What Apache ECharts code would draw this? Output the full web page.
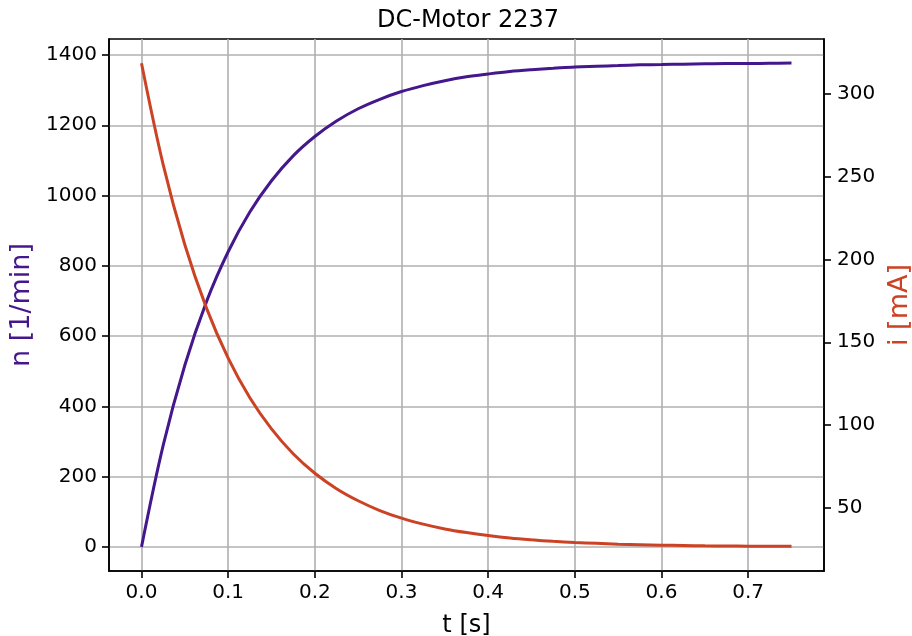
<!DOCTYPE html>
<html>
<head>
<meta charset="utf-8">
<script src="https://cdn.jsdelivr.net/npm/echarts@6/dist/echarts.min.js"></script>
<style>
  html, body { margin: 0; padding: 0; background: #ffffff; }
  #chart { width: 912px; height: 636px; }
</style>
</head>
<body>
<div id="chart"></div>
<script>
// Run-up of a DC motor: speed n and armature current i over time t
const time = [0, 0.025, 0.05, 0.075, 0.1, 0.125, 0.15, 0.175, 0.2, 0.225, 0.25, 0.275, 0.3, 0.325, 0.35, 0.375,
  0.4, 0.425, 0.45, 0.475, 0.5, 0.525, 0.55, 0.575, 0.6, 0.625, 0.65, 0.675, 0.7, 0.725, 0.75];
const speed = [0, 289, 517, 698, 840, 953, 1042, 1113, 1168, 1212, 1247, 1274, 1296, 1313, 1327, 1338,
  1346, 1353, 1358, 1362, 1366, 1368, 1370, 1372, 1373, 1374, 1375, 1376, 1376, 1376.5, 1377];
const current = [318.5, 257.3, 208.9, 170.6, 140.4, 116.5, 97.7, 82.7, 70.9, 61.6, 54.3, 48.4, 43.8, 40.2, 37.3, 35.1,
  33.3, 31.8, 30.7, 29.8, 29.1, 28.6, 28.1, 27.8, 27.5, 27.3, 27.1, 27.0, 26.9, 26.8, 26.8];

const timeTicks = [0, 0.1, 0.2, 0.3, 0.4, 0.5, 0.6, 0.7];
const speedTicks = [0, 200, 400, 600, 800, 1000, 1200, 1400];
const currentTicks = [50, 100, 150, 200, 250, 300];

const speedColor = '#44178c';
const currentColor = '#cc4224';
const font = 'DejaVu Sans';

const speedData = time.map((t, k) => [t, speed[k]]);
const currentData = time.map((t, k) => [t, current[k]]);

const chart = echarts.init(document.getElementById('chart'), null, { renderer: 'canvas' });

const tickStyle = { show: true, inside: false, length: 7, lineStyle: { color: '#000', width: 1.6 } };

chart.setOption({
  animation: false,
  backgroundColor: '#ffffff',
  // title centred over the plotting area (x 109..824)
  title: {
    text: 'DC-Motor 2237',
    left: 372,
    top: 4,
    textStyle: { fontFamily: font, fontSize: 24, fontWeight: 'normal', color: '#000' }
  },
  grid: {
    left: 109, right: 88, top: 39, bottom: 65,
    containLabel: false,
    outerBoundsMode: 'none',
    show: true, borderColor: '#000', borderWidth: 1.6, backgroundColor: 'transparent'
  },
  xAxis: {
    type: 'value',
    min: -0.0375,
    max: 0.7875,
    name: 't [s]',
    nameLocation: 'middle',
    nameGap: 43,
    nameTextStyle: { fontFamily: font, fontSize: 24, color: '#000' },
    axisLine: { show: true, onZero: false, lineStyle: { color: '#000', width: 1.6 } },
    axisTick: Object.assign({ customValues: timeTicks }, tickStyle),
    axisLabel: {
      customValues: timeTicks,
      margin: 12,
      fontFamily: font, fontSize: 20, color: '#000',
      formatter: v => v.toFixed(1)
    },
    splitLine: { show: true, lineStyle: { color: '#b0b0b0', width: 1.6 } }
  },
  yAxis: [
    {
      type: 'value',
      position: 'left',
      min: -68.8,
      max: 1445.6,
      name: 'n [1/min]',
      nameLocation: 'middle',
      nameGap: 69,
      nameRotate: 90,
      nameTextStyle: { fontFamily: font, fontSize: 27, color: speedColor },
      axisLine: { show: true, onZero: false, lineStyle: { color: '#000', width: 1.6 } },
      axisTick: Object.assign({ customValues: speedTicks }, tickStyle),
      axisLabel: {
        customValues: speedTicks, margin: 12, fontFamily: font, fontSize: 20, color: '#000',
        formatter: v => String(v)
      },
      splitLine: { show: true, lineStyle: { color: '#b0b0b0', width: 1.6 } }
    },
    {
      type: 'value',
      position: 'right',
      min: 11.9,
      max: 333.1,
      name: 'i [mA]',
      nameLocation: 'middle',
      nameGap: 59,
      nameRotate: 90,
      nameTextStyle: { fontFamily: font, fontSize: 27, color: currentColor },
      axisLine: { show: true, onZero: false, lineStyle: { color: '#000', width: 1.6 } },
      axisTick: Object.assign({ customValues: currentTicks }, tickStyle),
      axisLabel: {
        customValues: currentTicks, margin: 13, fontFamily: font, fontSize: 20, color: '#000',
        formatter: v => String(v)
      },
      splitLine: { show: false }
    }
  ],
  series: [
    {
      name: 'n',
      type: 'line',
      yAxisIndex: 0,
      data: speedData,
      showSymbol: false,
      smooth: 0.35,
      lineStyle: { color: speedColor, width: 3 },
      z: 3
    },
    {
      name: 'i',
      type: 'line',
      yAxisIndex: 1,
      data: currentData,
      showSymbol: false,
      smooth: 0.35,
      lineStyle: { color: currentColor, width: 3 },
      z: 4
    }
  ]
});
</script>
</body>
</html>
